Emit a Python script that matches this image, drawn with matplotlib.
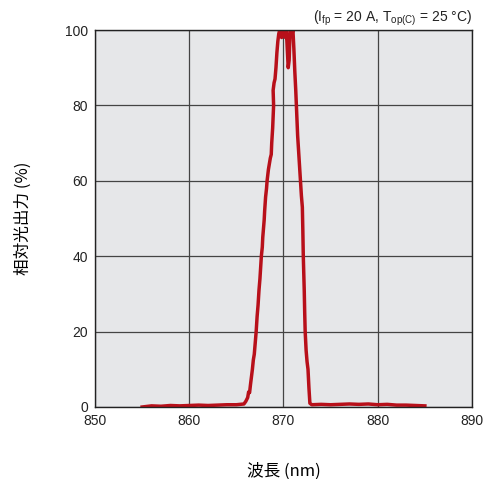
import matplotlib
matplotlib.use("Agg")
import matplotlib.pyplot as plt

wavelength = [855.0, 856, 857, 858, 859, 860, 861, 862, 863, 864, 865, 865.8,
              866.0, 866.2, 866.3, 866.4, 866.5, 866.6, 866.7, 866.8, 866.9, 867.0,
              867.1, 867.2, 867.3, 867.4, 867.5, 867.6, 867.65, 867.75, 867.8, 867.95,
              868.0, 868.1, 868.2, 868.26, 868.4, 868.6, 868.7, 868.75, 868.85, 868.9,
              868.95, 868.9, 869.0, 869.1, 869.2, 869.3, 869.4, 869.5, 869.6, 869.8,
              869.9, 870.0, 870.1, 870.2, 870.3, 870.4, 870.5, 870.6, 870.7, 870.8,
              870.9, 871.0, 871.1, 871.2, 871.3, 871.4, 871.5, 871.6, 871.7, 871.8,
              871.9, 872.0, 872.05, 872.1, 872.2, 872.25, 872.3, 872.4, 872.5, 872.6,
              872.7, 872.8, 873.0, 874, 875, 876, 877, 878, 879, 880, 881, 882, 883,
              884, 885]
intensity = [0.0, 0.3, 0.2, 0.4, 0.3, 0.4, 0.5, 0.4, 0.5, 0.6, 0.6, 0.8,
             1.5, 2.5, 4, 3.8, 6, 8, 10, 12.5, 14, 17,
             20, 24, 27, 31, 34, 38, 40, 42.4, 45, 49.6,
             52, 55.7, 58, 60, 63, 66, 67, 70, 74, 77,
             80, 84, 86, 87, 90, 94, 97, 99, 100, 98,
             100, 99, 100, 98, 100, 95, 90, 92, 100, 100,
             99, 100, 95, 89, 84, 78, 72, 68, 64, 60,
             56, 53, 47, 40, 31, 25, 20, 15, 12, 10,
             5, 1, 0.6, 0.7, 0.6, 0.7, 0.8, 0.7, 0.8, 0.6, 0.7, 0.5, 0.5,
             0.4, 0.3]

xticks = [850, 860, 870, 880, 890]
yticks = [0, 20, 40, 60, 80, 100]

plt.rcParams['font.family'] = ['Liberation Sans', 'Noto Sans CJK JP', 'DejaVu Sans']

fig = plt.figure(figsize=(4.85, 4.79), dpi=100)
ax = fig.add_axes([95/485, 1-407/479, (472-95)/485, (407-30)/479])
ax.set_facecolor('#e6e7e9')
ax.plot(wavelength, intensity, color='#b8101a', lw=2.5, solid_joinstyle='round')
ax.set_xlim(850, 890)
ax.set_ylim(0, 100)
ax.set_xticks(xticks)
ax.set_yticks(yticks)
ax.grid(True, color='#444444', lw=0.9)
ax.set_axisbelow(True)
ax.tick_params(length=0, labelsize=10, pad=5, colors='#222222')
for s in ax.spines.values():
    s.set_color('#222222')
    s.set_linewidth(1.0)

ax.set_xlabel('波長 (nm)', fontsize=12, family=['Noto Sans CJK JP', 'DejaVu Sans'], labelpad=25)
ax.set_ylabel('相対光出力 (%)', fontsize=12, family=['Noto Sans CJK JP', 'DejaVu Sans'], labelpad=24)
ax.text(1.0, 1.005, r'(I$_{\mathregular{fp}}$ = 20 A, T$_{\mathregular{op(C)}}$ = 25 °C)',
        transform=ax.transAxes, ha='right', va='bottom', fontsize=10, color='#222222')

fig.savefig('out.png', dpi=100)
